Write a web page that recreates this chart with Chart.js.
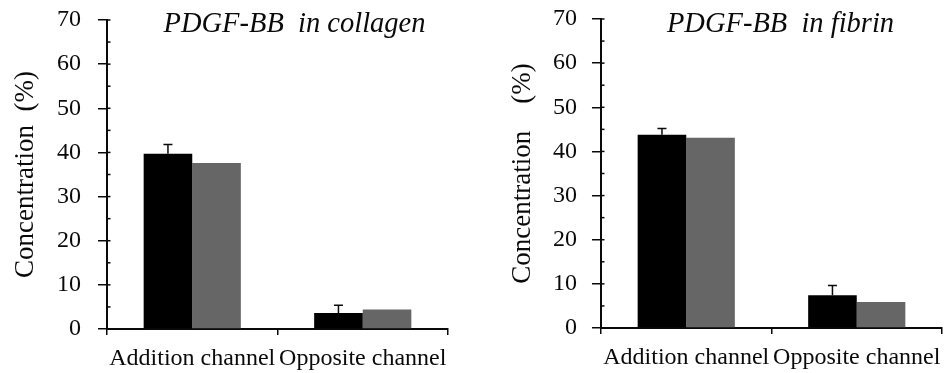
<!DOCTYPE html>
<html>
<head>
<meta charset="utf-8">
<script src="https://cdn.jsdelivr.net/npm/chart.js@4.4.0/dist/chart.umd.min.js"></script>
<style>
  body { margin: 0; background: #fff; }
  .panel { position: absolute; top: 0; height: 373px; }
</style>
</head>
<body>
<div class="panel" style="left:0;width:472px"><canvas id="collagen" width="472" height="373"></canvas></div>
<div class="panel" style="left:472px;width:473px"><canvas id="fibrin" width="473" height="373"></canvas></div>
<script>
'use strict';

const categories = ['Addition channel', 'Opposite channel'];
const yTicks = [0, 10, 20, 30, 40, 50, 60, 70];

// PDGF-BB in collagen
const collagenBlack = [39.7, 3.6];
const collagenBlackErr = [2.1, 1.8];
const collagenGray = [37.6, 4.4];

// PDGF-BB in fibrin
const fibrinBlack = [43.8, 7.4];
const fibrinBlackErr = [1.4, 2.2];
const fibrinGray = [43.1, 5.9];

const ink = '#0a0a0a';
const serif = 'Liberation Serif';
Chart.defaults.font.family = serif;
Chart.defaults.color = ink;

// Fehlerbalken nur nach oben, mit Kappe
const errorBars = {
  id: 'errorBars',
  afterDatasetsDraw(chart, args, opts) {
    const { ctx } = chart;
    const yScale = chart.scales.y;
    const meta = chart.getDatasetMeta(0);
    const values = chart.data.datasets[0].data;
    ctx.save();
    ctx.strokeStyle = ink;
    ctx.lineWidth = 1.5;
    meta.data.forEach((bar, i) => {
      const yTop = yScale.getPixelForValue(values[i] + opts.errors[i]);
      const yBase = yScale.getPixelForValue(values[i]);
      ctx.beginPath();
      ctx.moveTo(bar.x, yBase);
      ctx.lineTo(bar.x, yTop);
      ctx.moveTo(bar.x - 4.5, yTop);
      ctx.lineTo(bar.x + 4.5, yTop);
      ctx.stroke();
    });
    ctx.restore();
  },
};

// kleine Striche innen an der y-Achse (alle 5 %) und Titel im Diagramm
const axisExtras = {
  id: 'axisExtras',
  afterDraw(chart, args, opts) {
    const { ctx, chartArea } = chart;
    const yScale = chart.scales.y;
    ctx.save();
    ctx.strokeStyle = ink;
    ctx.lineWidth = 1.5;
    for (let v = 0; v <= 70; v += 5) {
      const y = yScale.getPixelForValue(v);
      ctx.beginPath();
      ctx.moveTo(chartArea.left, y);
      ctx.lineTo(chartArea.left + 3.5, y);
      ctx.stroke();
    }
    ctx.font = 'italic 28.5px "' + serif + '"';
    ctx.fillStyle = ink;
    ctx.textAlign = 'center';
    ctx.textBaseline = 'alphabetic';
    ctx.fillText(opts.title, (chartArea.left + chartArea.right) / 2 + opts.shift, 32);
    ctx.restore();
  },
};

function makeChart(id, title, yTitle, black, blackErr, gray, cfg) {
  const ctx = document.getElementById(id).getContext('2d');
  return new Chart(ctx, {
    type: 'bar',
    data: {
      labels: categories,
      datasets: [
        { data: black, backgroundColor: '#000' },
        { data: gray, backgroundColor: '#666' },
      ],
    },
    options: {
      responsive: false,
      animation: false,
      categoryPercentage: 0.57,
      barPercentage: 1,
      layout: { padding: { top: cfg.top, right: cfg.right, bottom: 0, left: 0 } },
      plugins: {
        legend: { display: false },
        tooltip: { enabled: false },
        errorBars: { errors: blackErr },
        axisExtras: { title, shift: cfg.titleShift },
      },
      scales: {
        x: {
          offset: true,
          grid: {
            offset: true,
            drawOnChartArea: false,
            tickLength: 6,
            color: ink,
            lineWidth: 1.5,
          },
          border: { display: true, color: ink, width: 2 },
          ticks: {
            font: { family: serif, size: 24 },
            padding: 9,
            maxRotation: 0,
            autoSkip: false,
          },
          afterFit: scale => {
            scale.height = cfg.xHeight;
            scale.paddingLeft = 0;
            scale.paddingRight = 0;
          },
        },
        y: {
          min: 0,
          max: 70,
          afterBuildTicks: scale => {
            scale.ticks = yTicks.map(v => ({ value: v }));
          },
          grid: {
            drawOnChartArea: false,
            tickLength: 9,
            color: ink,
            lineWidth: 1.5,
          },
          border: { display: true, color: ink, width: 2 },
          ticks: { font: { family: serif, size: 24 }, padding: cfg.tickPad },
          title: {
            display: true,
            text: yTitle,
            font: { family: serif, size: 27 },
            padding: { top: cfg.titlePad, bottom: 0 },
          },
          afterFit: scale => {
            scale.width = cfg.axisX;
            scale.paddingTop = 0;
            scale.paddingBottom = 0;
          },
        },
      },
    },
    plugins: [errorBars, axisExtras],
  });
}

makeChart('collagen', 'PDGF-BB  in collagen', 'Concentration  (%)',
  collagenBlack, collagenBlackErr, collagenGray,
  { top: 20, right: 24, xHeight: 44, axisX: 107, tickPad: 17, titlePad: 10, titleShift: 17 });

makeChart('fibrin', 'PDGF-BB  in fibrin', 'Concentration    (%)',
  fibrinBlack, fibrinBlackErr, fibrinGray,
  { top: 19, right: 3, xHeight: 45, axisX: 129, tickPad: 15, titlePad: 35, titleShift: 9 });
</script>
</body>
</html>
